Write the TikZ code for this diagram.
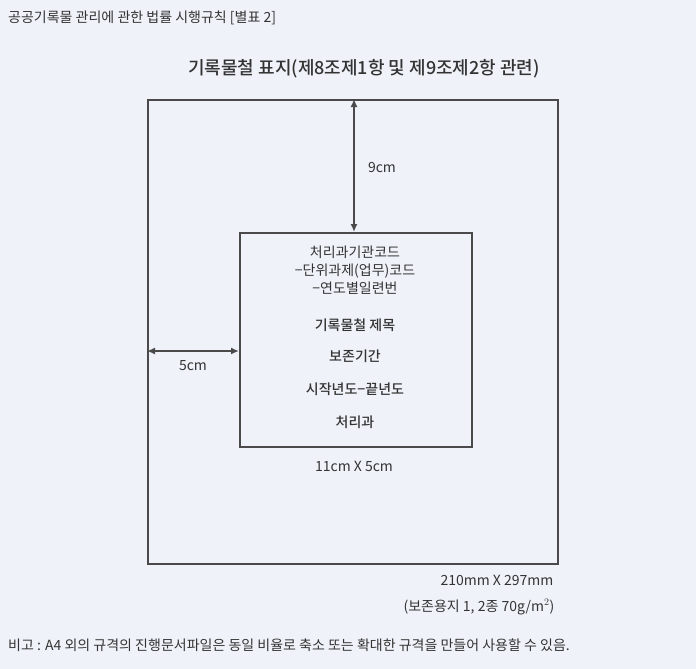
\documentclass[tikz,border=0pt]{standalone}
\usepackage{fontspec}
\newfontfamily\kr{Noto Sans CJK KR}
\newfontfamily\krm{Noto Sans CJK KR Medium}
\usetikzlibrary{arrows.meta}
\definecolor{bg}{HTML}{EFF3F9}
\definecolor{ln}{HTML}{4A4A4A}
\definecolor{tx}{HTML}{333333}
\begin{document}
\begin{tikzpicture}[x=1pt,y=-1pt,
  every node/.style={font=\kr\fontsize{14}{17}\selectfont, text=tx, inner sep=0pt},
  bold/.style={font=\krm\fontsize{14}{17}\selectfont},
  box/.style={draw=ln, line width=1.8pt},
  dim/.style={draw=ln, line width=1.8pt, {Latex[length=8pt,width=7pt]}-{Latex[length=8pt,width=7pt]}}]
\fill[bg] (0,0) rectangle (696,669);
\useasboundingbox (0,0) rectangle (696,669);
\node[anchor=west] (hdr) at (8,18) {공공기록물 관리에 관한 법률 시행규칙 [별표 2]};
\node[font=\krm\fontsize{18}{21}\selectfont] (ttl) at (364,69) {기록물철 표지(제8조제1항 및 제9조제2항 관련)};
\node[box, minimum width=410, minimum height=464, anchor=north west] (outer) at (147,99) {};
\node[box, minimum width=232, minimum height=214, anchor=north west] (inner) at (239,232) {};
\coordinate (top) at (354,99);
\coordinate (itop) at (354,232);
\coordinate (left) at (147,351);
\coordinate (ileft) at (239,351);
\draw[dim] (top) -- (itop);
\draw[dim] (left) -- (ileft);
\node (n9) at (382,168) {9cm};
\node (n5) at (193,366) {5cm};
\node[align=center, font=\kr\fontsize{14}{18}\selectfont] (code) at (355,270) {처리과기관코드\\−단위과제(업무)코드\\−연도별일련번};
\node[bold] (t1) at (355,325) {기록물철 제목};
\node[bold] (t2) at (355,356) {보존기간};
\node[bold] (t3) at (355,389) {시작년도−끝년도};
\node[bold] (t4) at (355,422) {처리과};
\node (sz) at (354,466) {11cm X 5cm};
\node (a4) at (497,580) {210mm X 297mm};
\node (pp) at (479,607) {(보존용지 1, 2종 70g/m$^2$)};
\node[anchor=west] (note) at (8,645) {비고 : A4 외의 규격의 진행문서파일은 동일 비율로 축소 또는 확대한 규격을 만들어 사용할 수 있음.};
\end{tikzpicture}
\end{document}
